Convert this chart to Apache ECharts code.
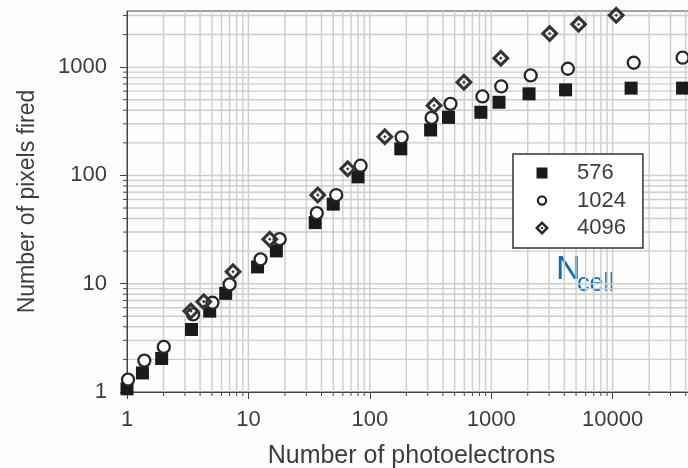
<!DOCTYPE html>
<html>
<head>
<meta charset="utf-8">
<script src="https://cdn.jsdelivr.net/npm/echarts@6/dist/echarts.min.js"></script>
<style>
  html, body { margin: 0; padding: 0; background: #fdfdfb; }
  #chart { width: 688px; height: 468px; }
</style>
</head>
<body>
<div id="chart"></div>
<script>
// ---- data ----
const legendNames = ['576', '1024', '4096'];
const xTickLabels = ['1', '10', '100', '1000', '10000'];
const yTickLabels = ['1', '10', '100', '1000'];

const x576 = [1, 1.34, 1.93, 3.4, 4.8, 6.5, 11.9, 17, 35.5, 50, 80, 180, 317, 445, 822, 1160, 2050, 4100, 14200, 37700];
const y576 = [1.07, 1.5, 2.04, 3.78, 5.58, 8.15, 14.3, 20.1, 36.7, 54.3, 97, 176, 263, 344, 383, 474, 567, 617, 640, 640];

const x1024 = [1.02, 1.39, 2.01, 3.5, 5.06, 7.0, 12.6, 18.1, 36.6, 52.9, 84, 183, 323, 462, 847, 1210, 2115, 4285, 14930, 37700];
const y1024 = [1.30, 1.95, 2.61, 5.2, 6.67, 9.87, 16.8, 25.8, 44.9, 65.9, 123, 225, 340, 458, 536, 663, 838, 967, 1098, 1222];

const x4096 = [3.36, 4.29, 7.47, 15, 37.3, 65.8, 133, 338, 596, 1200, 3030, 5250, 10700];
const y4096 = [5.59, 6.81, 12.9, 25.8, 65.9, 115, 228, 442, 726, 1211, 2040, 2484, 3010];

const xMin = 1, xMax = 100000;
const yMin = 1, yMax = 3300;

// ---- helpers ----
function pairs(xs, ys) { return xs.map((x, i) => [x, ys[i]]); }

// grid-line values (decade multiples) for the log axes
const xGridVals = [];
for (let d = 1; d < xMax; d *= 10) for (let m = 1; m <= 9; m++) { const v = m * d; if (v > xMin && v < xMax) xGridVals.push([v, yMin, m === 1 ? 1 : 0]); }
const yGridVals = [];
for (let d = 1; d < yMax; d *= 10) for (let m = 1; m <= 9; m++) { const v = m * d; if (v > yMin && v < yMax) yGridVals.push([xMin, v, m === 1 ? 1 : 0]); }

const gridColor = '#cdcdcd';
const axisColor = '#444';
const textColor = '#3d3d3d';
const font = 'Liberation Sans';

function renderXGrid(params, api) {
  const cs = params.coordSys;
  const x = api.coord([api.value(0), yMin])[0];
  const major = api.value(2) === 1;
  const bottom = cs.y + cs.height;
  const children = [{ type: 'line', shape: { x1: x, y1: cs.y, x2: x, y2: bottom }, style: { stroke: gridColor, lineWidth: 1.4 } }];
  if (!major) children.push({ type: 'line', shape: { x1: x, y1: bottom, x2: x, y2: bottom + 4 }, style: { stroke: axisColor, lineWidth: 1 } });
  return { type: 'group', children };
}
function renderYGrid(params, api) {
  const cs = params.coordSys;
  const y = api.coord([xMin, api.value(1)])[1];
  const major = api.value(2) === 1;
  const children = [{ type: 'line', shape: { x1: cs.x, y1: y, x2: cs.x + cs.width, y2: y }, style: { stroke: gridColor, lineWidth: 1.4 } }];
  if (!major) children.push({ type: 'line', shape: { x1: cs.x - 4, y1: y, x2: cs.x, y2: y }, style: { stroke: axisColor, lineWidth: 1 } });
  return { type: 'group', children };
}

const diamondDot = 'path://M0,-10 L10,0 L0,10 L-10,0 Z M0,-5.2 L-5.2,0 L0,5.2 L5.2,0 Z M0,-1.9 L1.9,0 L0,1.9 L-1.9,0 Z';
// legend icons share a common ±8 frame (the corner moveTo points fix the bounding box)
const frame = 'M-8,-8 M8,8 ';
const legendSquare = 'path://' + frame + 'M-5.5,-5.5 L5.5,-5.5 L5.5,5.5 L-5.5,5.5 Z';
const legendRing = 'path://' + frame + 'M5.2,0 A5.2,5.2 0 1,1 -5.2,0 A5.2,5.2 0 1,1 5.2,0 Z M3.0,0 A3.0,3.0 0 1,0 -3.0,0 A3.0,3.0 0 1,0 3.0,0 Z';
const legendDiamond = 'path://' + frame + 'M0,-7 L7,0 L0,7 L-7,0 Z M0,-3.4 L-3.4,0 L0,3.4 L3.4,0 Z M0,-1.5 L1.5,0 L0,1.5 L-1.5,0 Z';

const chart = echarts.init(document.getElementById('chart'));
chart.setOption({
  backgroundColor: '#fdfdfb',
  animation: false,
  grid: { left: 127, top: 11, right: -46, bottom: 76, outerBoundsMode: 'none', containLabel: false,
          show: true, borderColor: axisColor, borderWidth: 1, backgroundColor: 'transparent' },
  xAxis: {
    type: 'log', logBase: 10, min: xMin, max: xMax,
    name: 'Number of photoelectrons', nameLocation: 'middle', nameGap: 52,
    nameTextStyle: { fontFamily: font, fontSize: 25, color: textColor, padding: [0, 38, 0, 0] },
    axisLine: { show: true, lineStyle: { color: axisColor, width: 1 } },
    axisTick: { show: true, length: 7, lineStyle: { color: axisColor } },
    splitLine: { show: false },
    axisLabel: {
      margin: 17, fontFamily: font, fontSize: 22, color: textColor,
      formatter: v => { const i = Math.round(Math.log10(v)); return (Math.abs(Math.log10(v) - i) < 1e-6 && xTickLabels[i] !== undefined) ? xTickLabels[i] : ''; }
    }
  },
  yAxis: {
    type: 'log', logBase: 10, min: yMin, max: yMax,
    name: 'Number of pixels fired', nameLocation: 'middle', nameGap: 88, nameRotate: 90,
    nameTextStyle: { fontFamily: font, fontSize: 23, color: textColor },
    axisLine: { show: true, lineStyle: { color: axisColor, width: 1 } },
    axisTick: { show: true, length: 7, lineStyle: { color: axisColor } },
    splitLine: { show: false },
    axisLabel: {
      margin: 20, fontFamily: font, fontSize: 22, color: textColor, showMaxLabel: false,
      formatter: v => { const i = Math.round(Math.log10(v)); return (Math.abs(Math.log10(v) - i) < 1e-6 && yTickLabels[i] !== undefined) ? yTickLabels[i] : ''; }
    }
  },
  legend: {
    orient: 'vertical', left: 513, top: 154,
    padding: [8, 17, 9, 21], itemGap: 5.5, itemWidth: 16, itemHeight: 16,
    borderColor: '#333', borderWidth: 1.5, backgroundColor: '#ffffff', borderRadius: 0,
    textStyle: { fontFamily: font, fontSize: 22, color: textColor, padding: [0, 0, 0, 22], lineHeight: 22 },
    data: [
      { name: legendNames[0], icon: legendSquare, itemStyle: { color: '#1a1a1a', borderWidth: 0 } },
      { name: legendNames[1], icon: legendRing, itemStyle: { color: '#262626', borderWidth: 0 } },
      { name: legendNames[2], icon: legendDiamond, itemStyle: { color: '#262626', borderWidth: 0 } }
    ]
  },
  graphic: [
    { type: 'text', left: 556, top: 253, style: { text: 'N', font: '34px "Liberation Sans"', fill: '#0070c0' } },
    { type: 'text', left: 577, top: 272, style: { text: 'cell', font: '25px "Liberation Sans"', fill: '#0070c0' } }
  ],
  series: [
    { type: 'custom', silent: true, z: 0, clip: false, renderItem: renderXGrid, encode: { x: 0, y: 1 }, data: xGridVals },
    { type: 'custom', silent: true, z: 0, clip: false, renderItem: renderYGrid, encode: { x: 0, y: 1 }, data: yGridVals },
    { name: legendNames[0], type: 'scatter', clip: false, z: 3, symbol: 'rect', symbolSize: 13,
      itemStyle: { color: '#1a1a1a', opacity: 1 }, data: pairs(x576, y576) },
    { name: legendNames[1], type: 'scatter', clip: false, z: 4, symbol: 'circle', symbolSize: 12,
      itemStyle: { color: '#ffffff', borderColor: '#262626', borderWidth: 2.3, opacity: 1 }, data: pairs(x1024, y1024) },
    { name: legendNames[2], type: 'scatter', clip: false, z: 5, symbol: diamondDot, symbolSize: 18,
      itemStyle: { color: '#333333', opacity: 1 }, data: pairs(x4096, y4096) }
  ]
});
</script>
</body>
</html>
